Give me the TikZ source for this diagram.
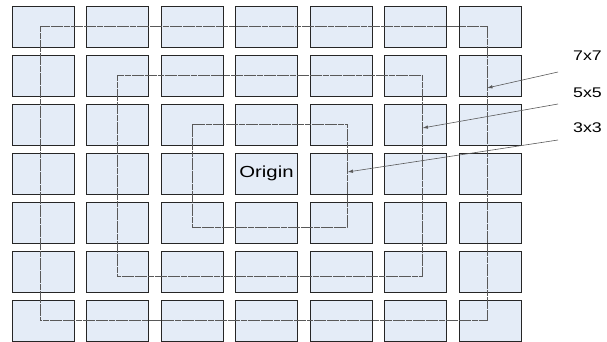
\documentclass[tikz,border=0pt]{standalone}
\usepackage{graphicx}
\usepackage{fontspec}
\setmainfont{Liberation Sans}
\usepackage{tikz}
\usetikzlibrary{arrows.meta, calc, positioning}

\newcommand{\widetext}[1]{\scalebox{1.27}[1]{#1}}

\begin{document}
\begin{tikzpicture}[
	x=1pt, y=-1pt,
	>=Latex,
	% Style for grid cells
	cell/.style={
		rectangle,
		draw=black!85,
		line width=0.8pt,
		fill=cellblue,
		minimum width=62pt,
		minimum height=41pt,
		inner sep=0pt
	},
	% Style for the square rings
	ring/.style={draw=black!65, line width=0.6pt, dash pattern=on 6pt off 0.6pt},
	% Style for pointers and their labels
	pointer/.style={-{Latex[length=5.5pt, width=3.5pt]}, draw=black!65, line width=0.6pt},
	tag/.style={anchor=west, inner sep=0pt, font=\fontsize{14}{16}\selectfont}
	]
	\definecolor{cellblue}{RGB}{228,236,247}
	
	\useasboundingbox (0,0) rectangle (607,342);
	
	% --- GRID OF CELLS ---
	\foreach \i in {0,...,6} {
		\foreach \j in {0,...,6} {
			\node[cell] (b-\i-\j) at ({43+74.5*\i}, {26.5+49*\j}) {};
		}
	}
	
	% Centre cell text
	\node[font=\fontsize{16}{18}\selectfont, inner sep=0pt] (origin) at (b-3-3.center) {\widetext{Origin}};
	
	% --- RINGS ---
	\draw[ring] ($(b-0-0.center)+(-3,0)$) rectangle ($(b-6-6.center)+(-3,0)$);
	\draw[ring] (b-1-1.center) rectangle ($(b-5-5.center)+(6.5,4.5)$);
	\draw[ring] (b-2-2.center) rectangle ($(b-4-4.center)+(6,4.5)$);
	
	% Points on the rings
	\coordinate (r7) at (487,88);
	\coordinate (r5) at (422.5,128);
	\coordinate (r3) at (347.5,172);
	
	% --- LABELS ---
	\node[tag] (L7) at (573,56) {\widetext{7x7}};
	\node[tag] (L5) at (573,92.5) {\widetext{5x5}};
	\node[tag] (L3) at (573,128) {\widetext{3x3}};
	
	\coordinate (s7) at (558,72);
	\coordinate (s5) at (558,104);
	\coordinate (s3) at (558,140);
	
	% Pointers
	\draw[pointer] (s7) -- (r7);
	\draw[pointer] (s5) -- (r5);
	\draw[pointer] (s3) -- (r3);
	
\end{tikzpicture}
\end{document}
